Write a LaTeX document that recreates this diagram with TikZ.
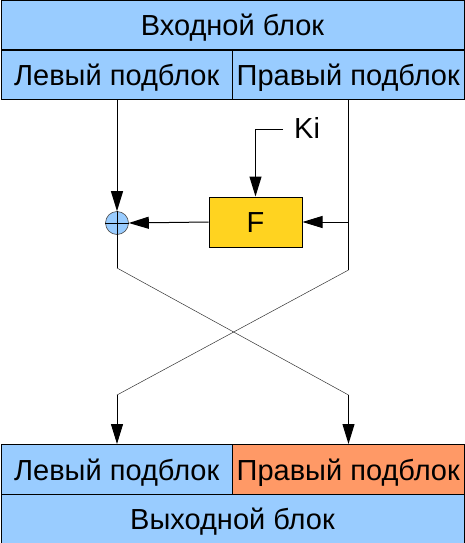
\documentclass[tikz,border=0pt]{standalone}
\usepackage{fontspec}
\setmainfont{Liberation Sans}
\usetikzlibrary{arrows.meta}
\definecolor{blockblue}{HTML}{99CCFF}
\definecolor{blockorange}{HTML}{FF9966}
\definecolor{fyellow}{HTML}{FFD320}
\begin{document}
\begin{tikzpicture}[x=1pt,y=-1pt,
  lbl/.style={font=\fontsize{29}{29}\selectfont,text height=21pt,text depth=0pt},
  blk/.style={lbl,draw=black,line width=1pt,fill=blockblue,inner sep=0pt,anchor=north west},
  wire/.style={draw=black,line width=1pt},
  thin wire/.style={draw=black!80,line width=0.5pt},
  arr/.style={wire,-{Triangle[length=20pt,width=12pt]}}]
\useasboundingbox (0,0) rectangle (464,543);
% input block and its halves
\node[blk,minimum width=463pt,minimum height=49pt] (in) at (0.5,0.5) {Входной блок};
\node[blk,minimum width=231.5pt,minimum height=49pt] (inL) at (0.5,50) {Левый подблок};
\node[blk,minimum width=231.5pt,minimum height=49pt] (inR) at (232,50) {Правый подблок};
% output block and its halves
\node[blk,minimum width=231.5pt,minimum height=50pt] (outL) at (0.5,444) {Левый подблок};
\node[blk,fill=blockorange,minimum width=231.5pt,minimum height=50pt] (outR) at (232,444) {Правый подблок};
\node[blk,minimum width=463pt,minimum height=49pt] (out) at (0.5,494) {Выходной блок};
% round function
\node[lbl,draw=black,line width=1pt,fill=fyellow,minimum width=93pt,minimum height=50pt,inner sep=0pt] (F) at (255.5,222) {F};
% XOR
\node[circle,draw=black!70,line width=0.6pt,fill=blockblue,minimum size=23pt,inner sep=0pt] (x) at (117,223) {};
\draw[line width=0.7pt] (x.north) -- (x.south) (x.west) -- (x.east);
% key input
\node[lbl,anchor=base west,inner sep=0pt,text height=,text depth=] (ki) at (294,138) {Ki};
\coordinate (kc) at (255.5,129);
\draw[arr] (283,129) -- (kc) -- (F.north);
% wiring
\coordinate (rtap) at (348.5,222);
\draw[arr] (117,99) -- (x.north);
\draw[wire] (348.5,99) -- (348.5,270);
\draw[arr] (rtap) -- (F.east);
\draw[arr] (F.west) -- (x.east);
% cross-over
\coordinate (lb) at (117,268);
\coordinate (rb) at (348.5,270);
\coordinate (lc) at (117,395);
\coordinate (rc) at (348.5,395);
\draw[wire] (x.south) -- (lb);
\draw[thin wire] (lb) -- (rc);
\draw[thin wire] (rb) -- (lc);
\draw[arr] (lc) -- (117,444);
\draw[arr] (rc) -- (348.5,444);
\end{tikzpicture}
\end{document}
